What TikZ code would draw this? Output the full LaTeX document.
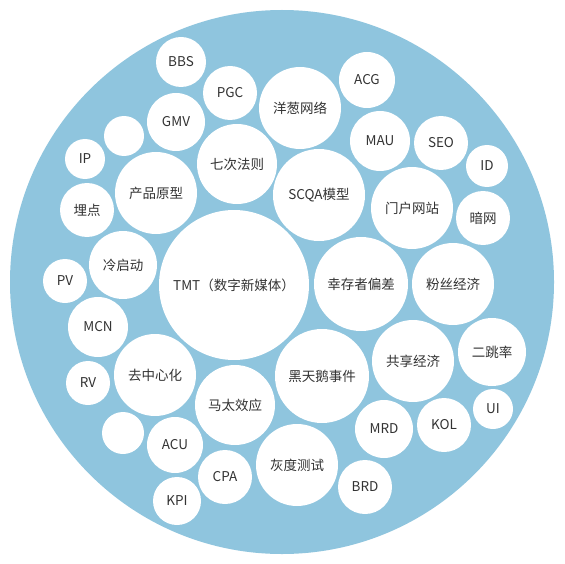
\documentclass[tikz,border=0pt]{standalone}
\usepackage{fontspec}
\newfontfamily\cjkf{Noto Sans CJK SC}
\definecolor{bgblue}{RGB}{143,197,222}
\definecolor{txt}{RGB}{51,51,51}
\tikzset{
  bub/.style={circle,fill=white,inner sep=0pt,minimum size={2*#1pt},text=txt,font=\cjkf\fontsize{13.5}{15}\selectfont},
}
\begin{document}
\begin{tikzpicture}[x=1pt,y=-1pt]
\fill[white] (0,0) rectangle (564,564);
\useasboundingbox (0,0) rectangle (564,564);
\node[circle,fill=bgblue,inner sep=0pt,minimum size=544pt] (outer) at (282,282) {};
\node[bub=25] (bbs) at (181,62) {BBS};
\node[bub=27] (pgc) at (230,93) {PGC};
\node[bub=29] (gmv) at (176,122) {GMV};
\node[bub=20] (blank1) at (124,136) {};
\node[bub=20] (ip) at (85,159) {IP};
\node[bub=40] (qcfz) at (237,164) {七次法则};
\node[bub=41] (cpyx) at (156,193) {产品原型};
\node[bub=27] (maidian) at (87,210) {埋点};
\node[bub=34] (lqd) at (123,265) {冷启动};
\node[bub=22] (pv) at (65,281) {PV};
\node[bub=75] (tmt) at (234,285) {TMT（数字新媒体）};
\node[bub=30] (mcn) at (98,327) {MCN};
\node[bub=41] (qzxh) at (155,375) {去中心化};
\node[bub=22] (rv) at (88,383) {RV};
\node[bub=40] (mtxy) at (235,405) {马太效应};
\node[bub=21] (blank2) at (123,433) {};
\node[bub=28] (acu) at (175,445) {ACU};
\node[bub=27] (cpa) at (225,477) {CPA};
\node[bub=24] (kpi) at (177,501) {KPI};
\node[bub=28] (acg) at (367,80) {ACG};
\node[bub=41] (ycwl) at (300,108) {洋葱网络};
\node[bub=30] (mau) at (380,141) {MAU};
\node[bub=27] (seo) at (441,143) {SEO};
\node[bub=21] (id) at (487,166) {ID};
\node[bub=46] (scqa) at (319,195) {SCQA模型};
\node[bub=41] (mhwz) at (412,208) {门户网站};
\node[bub=27] (anwang) at (483,218) {暗网};
\node[bub=47] (xczpc) at (361,284) {幸存者偏差};
\node[bub=41] (fsjj) at (453,284) {粉丝经济};
\node[bub=34] (etl) at (492,352) {二跳率};
\node[bub=41] (gxjj) at (413,361) {共享经济};
\node[bub=47] (htesj) at (322,376) {黑天鹅事件};
\node[bub=29] (mrd) at (384,429) {MRD};
\node[bub=27] (kol) at (444,425) {KOL};
\node[bub=20] (ui) at (493,409) {UI};
\node[bub=41] (hdcs) at (297,465) {灰度测试};
\node[bub=27] (brd) at (365,487) {BRD};
\end{tikzpicture}
\end{document}
